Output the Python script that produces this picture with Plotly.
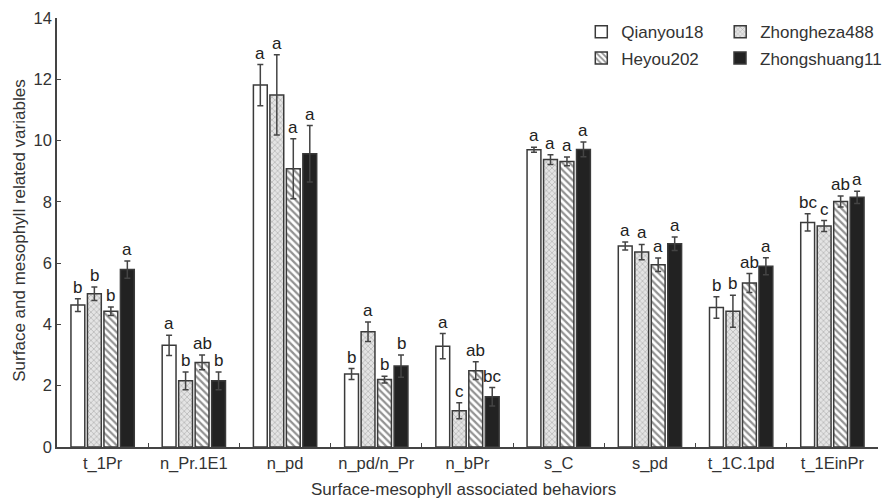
import plotly.graph_objects as go

categories = ["t_1Pr", "n_Pr.1E1", "n_pd", "n_pd/n_Pr", "n_bPr", "s_C", "s_pd", "t_1C.1pd", "t_1EinPr"]
series_names = ["Qianyou18", "Zhongheza488", "Heyou202", "Zhongshuang11"]

qianyou18 = [4.63, 3.32, 11.81, 2.38, 3.29, 9.70, 6.56, 4.55, 7.33]
zhongheza488 = [5.00, 2.16, 11.49, 3.76, 1.18, 9.38, 6.36, 4.43, 7.21]
heyou202 = [4.43, 2.76, 9.08, 2.20, 2.49, 9.32, 5.95, 5.35, 8.01]
zhongshuang11 = [5.79, 2.16, 9.57, 2.64, 1.64, 9.71, 6.63, 5.90, 8.15]

err_qianyou18 = [0.21, 0.33, 0.67, 0.18, 0.41, 0.08, 0.13, 0.35, 0.28]
err_zhongheza488 = [0.22, 0.29, 1.31, 0.32, 0.26, 0.16, 0.25, 0.52, 0.18]
err_heyou202 = [0.14, 0.24, 0.98, 0.11, 0.29, 0.14, 0.22, 0.31, 0.18]
err_zhongshuang11 = [0.28, 0.29, 0.92, 0.36, 0.30, 0.24, 0.22, 0.28, 0.20]

letters_qianyou18 = ["b", "a", "a", "b", "a", "a", "a", "b", "bc"]
letters_zhongheza488 = ["b", "b", "a", "a", "c", "a", "a", "b", "c"]
letters_heyou202 = ["b", "ab", "a", "b", "ab", "a", "a", "ab", "ab"]
letters_zhongshuang11 = ["a", "b", "a", "b", "bc", "a", "a", "a", "a"]

values = [qianyou18, zhongheza488, heyou202, zhongshuang11]
errors = [err_qianyou18, err_zhongheza488, err_heyou202, err_zhongshuang11]
letters = [letters_qianyou18, letters_zhongheza488, letters_heyou202, letters_zhongshuang11]

edge = "#3a3a3a"
styles = [
    dict(color="white", pattern=None),
    dict(color="#d8d8d8", pattern=dict(shape="x", fgcolor="#8a8a8a", bgcolor="#e4e4e4", size=4, solidity=0.35)),
    dict(color="white", pattern=dict(shape="\\", fgcolor="#262626", bgcolor="white", size=5, solidity=0.45)),
    dict(color="#222222", pattern=None),
]
legend_ids = ["legend", "legend2", "legend3", "legend4"]

BARGAP = 0.277
BARGROUPGAP = 0.16
FONT = "Liberation Sans, Arial, sans-serif"

fig = go.Figure()
for k, name in enumerate(series_names):
    marker = dict(color=styles[k]["color"], line=dict(color=edge, width=1.5))
    if styles[k]["pattern"] is not None:
        marker["pattern"] = styles[k]["pattern"]
    fig.add_trace(go.Bar(
        name=name, x=categories, y=values[k], legend=legend_ids[k],
        marker=marker,
        error_y=dict(type="data", array=errors[k], visible=True,
                     color="#444444", thickness=1.5, width=3),
    ))

slot = (1 - BARGAP) / len(series_names)
for k in range(len(series_names)):
    off = (k - (len(series_names) - 1) / 2) * slot
    for i, cat in enumerate(categories):
        fig.add_annotation(
            x=i + off, y=values[k][i] + errors[k][i], xref="x", yref="y",
            text=letters[k][i], showarrow=False, yanchor="bottom", yshift=0,
            font=dict(size=17, color="#222222"),
        )

fig.add_annotation(
    text="Surface and mesophyll related variables", textangle=-90,
    xref="paper", yref="paper", x=-0.0458, y=0.505, showarrow=False,
    xanchor="center", yanchor="middle", font=dict(size=17, color="#333333"),
)
fig.add_annotation(
    text="Surface-mesophyll associated behaviors",
    xref="paper", yref="paper", x=0.495, y=-0.100, showarrow=False,
    xanchor="center", yanchor="middle", font=dict(size=17, color="#333333"),
)

# legend placement (2 x 2 grid)
col_x = [0.6386, 0.8078]
row_y = [0.967, 0.906]
grid = [(0, 0), (1, 0), (0, 1), (1, 1)]
legend_layout = {}
for k, lid in enumerate(legend_ids):
    c, r = grid[k]
    legend_layout[lid] = dict(
        x=col_x[c], y=row_y[r], xanchor="left", yanchor="middle",
        itemwidth=30, font=dict(size=17, color="#333333", family=FONT),
        bgcolor="rgba(0,0,0,0)", borderwidth=0,
    )

fig.update_layout(
    width=887, height=500,
    margin=dict(l=57, r=0, t=18, b=53),
    barmode="group", bargap=BARGAP, bargroupgap=BARGROUPGAP,
    plot_bgcolor="white", paper_bgcolor="white",
    font=dict(family=FONT, size=16, color="#333333"),
    showlegend=True,
    xaxis=dict(showline=True, linecolor="#444444", linewidth=2,
               ticks="inside", tickson="boundaries", ticklen=4, tickcolor="#444444",
               showgrid=False, tickfont=dict(size=16.5, color="#333333")),
    yaxis=dict(range=[0, 14], dtick=2, showline=True, linecolor="#444444", linewidth=1.5,
               ticks="inside", ticklen=4, tickcolor="#444444", showgrid=False, zeroline=False,
               tickfont=dict(size=16.5, color="#333333")),
    **legend_layout,
)

fig.write_html("out.html", config={"displayModeBar": False},
               post_script="document.body.style.margin='0px';document.body.style.overflow='hidden';")
